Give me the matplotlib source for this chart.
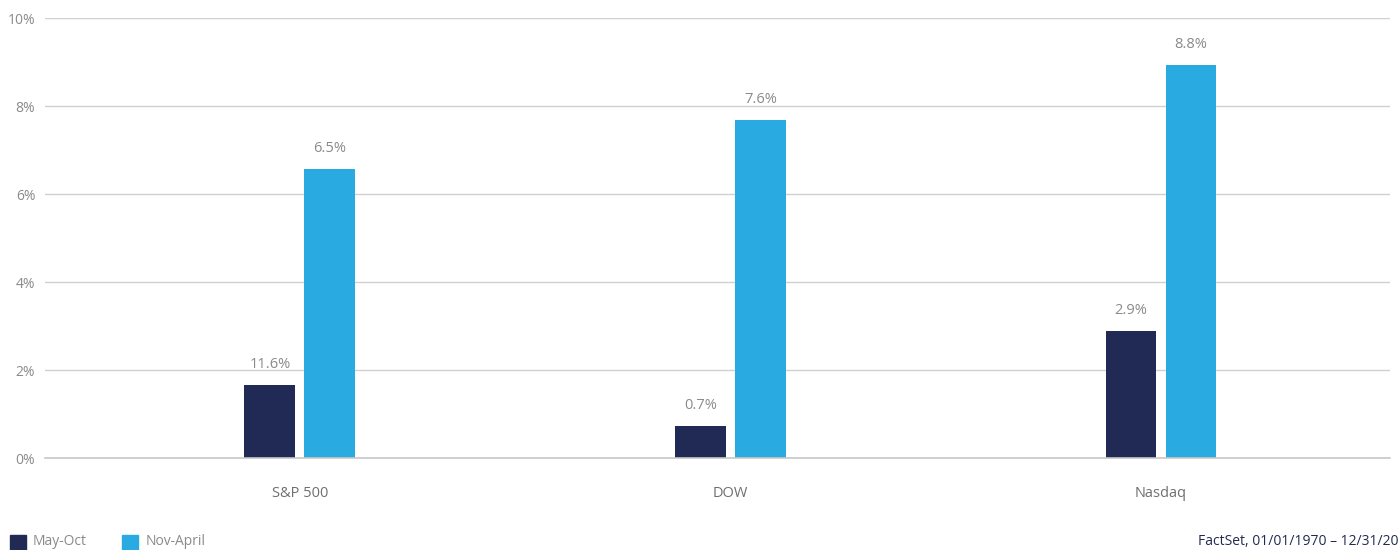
import numpy as np
import matplotlib
matplotlib.use("Agg")
import matplotlib.pyplot as plt
from matplotlib.patches import Rectangle

plt.rcParams['font.family'] = ['Open Sans', 'DejaVu Sans']

categories = ['S&P 500', 'DOW', 'Nasdaq']
may_oct = [1.66, 0.73, 2.89]
nov_apr = [6.57, 7.68, 8.93]
may_oct_labels = ['11.6%', '0.7%', '2.9%']
nov_apr_labels = ['6.5%', '7.6%', '8.8%']
series_names = ['May-Oct', 'Nov-April']
source = 'FactSet, 01/01/1970 – 12/31/20'

navy = '#212a54'
blue = '#29abe2'
grey = '#8a8a8a'

fig = plt.figure(figsize=(13.99, 5.5), dpi=100)
ax = fig.add_axes([45 / 1399, 92 / 550, 1345 / 1399, 440 / 550])

x = np.arange(len(categories))
w = 0.118
off = 0.0697
b1 = ax.bar(x - off, may_oct, w, color=navy, zorder=3)
b2 = ax.bar(x + off, nov_apr, w, color=blue, zorder=3)

for bars, labels in ((b1, may_oct_labels), (b2, nov_apr_labels)):
    for rect, lab in zip(bars, labels):
        ax.annotate(lab, (rect.get_x() + rect.get_width() / 2, rect.get_height()),
                    xytext=(0, 13), textcoords='offset pixels', ha='center', va='bottom',
                    fontsize=10.5, color=grey)

ax.set_xlim(-0.592, 2.532)
ax.set_ylim(0, 10)
ax.set_yticks(np.arange(0, 11, 2))
ax.set_yticklabels([f'{v}%' for v in range(0, 11, 2)])
ax.grid(axis='y', color='#d0d0d0', linewidth=1, zorder=0)
ax.axhline(0, color='#c8c8c8', linewidth=1.2, zorder=4, clip_on=False)
ax.set_xticks(x)
ax.set_xticklabels(categories)
for s in ax.spines.values():
    s.set_visible(False)
ax.tick_params(axis='y', length=0, pad=7, labelsize=10, labelcolor=grey)
ax.tick_params(axis='x', length=0, pad=20, labelsize=10.5, labelcolor='#6f6f6f')

# legend row at bottom
fig.patches.append(Rectangle((10 / 1399, 0 / 550), 16 / 1399, 15 / 550,
                             transform=fig.transFigure, color=navy))
fig.text(33 / 1399, 8.5 / 550, series_names[0], fontsize=10, color=grey, va='center')
fig.patches.append(Rectangle((122 / 1399, 0 / 550), 16 / 1399, 15 / 550,
                             transform=fig.transFigure, color=blue))
fig.text(146 / 1399, 8.5 / 550, series_names[1], fontsize=10, color=grey, va='center')
fig.text(1 - 1 / 1399, 8.5 / 550, source, fontsize=10, color=navy, va='center', ha='right')

fig.savefig('out.png', dpi=100)
